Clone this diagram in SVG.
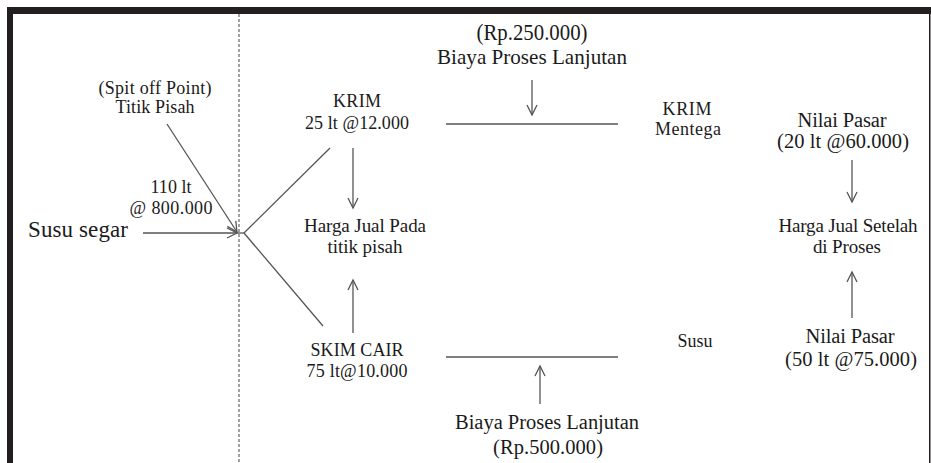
<svg xmlns="http://www.w3.org/2000/svg" width="931" height="463" viewBox="0 0 931 463">
<style>
text{font-family:"Liberation Serif","Times New Roman",serif;fill:#1a1a1a;text-anchor:middle}
.s{font-size:18px}.m{font-size:19px}.l{font-size:20.5px}.xl{font-size:23px}
.c{stroke:#555;stroke-width:1.3;fill:none}
</style>
<defs>
<marker id="ah" markerUnits="userSpaceOnUse" markerWidth="14" markerHeight="14" viewBox="-12 -7 14 14" refX="0" refY="0" orient="auto">
<path d="M-10,-5 L0,0 L-10,5" fill="none" stroke="#555" stroke-width="1.3"/>
</marker>
</defs>
<rect x="0" y="0" width="931" height="463" fill="#fff"/>
<g id="frame">
<rect x="7" y="7" width="924" height="7" fill="#231f20"/>
<rect x="7" y="7" width="6" height="456" fill="#231f20"/>
<rect x="929" y="7" width="1.5" height="456" fill="#231f20"/>
</g>
<g id="connectors">
<line x1="239" y1="14" x2="239" y2="463" stroke="#444" stroke-width="1" stroke-dasharray="3,2"/>
<line class="c" x1="143" y1="233" x2="237" y2="233" marker-end="url(#ah)"/>
<line class="c" x1="237" y1="233" x2="244" y2="233"/>
<line class="c" x1="167" y1="124" x2="237" y2="232" marker-end="url(#ah)"/>
<line class="c" x1="244" y1="233" x2="330" y2="148"/>
<line class="c" x1="244" y1="233" x2="323" y2="326"/>
<line class="c" x1="353" y1="148" x2="353" y2="208" marker-end="url(#ah)"/>
<line class="c" x1="353" y1="333" x2="353" y2="280" marker-end="url(#ah)"/>
<line class="c" x1="446" y1="124" x2="618" y2="124"/>
<line class="c" x1="532" y1="80" x2="532" y2="115" marker-end="url(#ah)"/>
<line class="c" x1="446" y1="357" x2="618" y2="357"/>
<line class="c" x1="540" y1="404" x2="540" y2="366" marker-end="url(#ah)"/>
<line class="c" x1="852" y1="160" x2="852" y2="202" marker-end="url(#ah)"/>
<line class="c" x1="852" y1="318" x2="852" y2="272" marker-end="url(#ah)"/>
</g>
<g id="biaya-top">
<text x="532" y="40" style="font-size:24px" textLength="111" lengthAdjust="spacingAndGlyphs">(Rp.250.000)</text>
<text x="532" y="64" style="font-size:22px" textLength="190" lengthAdjust="spacingAndGlyphs">Biaya Proses Lanjutan</text>
</g>
<g id="titik-pisah">
<text class="s" x="155" y="94" textLength="113">(Spit off Point)</text>
<text class="s" x="155" y="113" textLength="79">Titik Pisah</text>
</g>
<g id="input-qty">
<text class="s" x="171" y="193" textLength="41">110 lt</text>
<text class="s" x="171" y="214" textLength="83">@ 800.000</text>
</g>
<g id="susu-segar">
<text class="xl" x="78" y="237" textLength="100">Susu segar</text>
</g>
<g id="krim">
<text class="s" x="357" y="107" textLength="48">KRIM</text>
<text class="s" x="357" y="129" textLength="104">25 lt @12.000</text>
</g>
<g id="harga-jual-pisah">
<text class="m" x="365" y="232" textLength="122">Harga Jual Pada</text>
<text class="m" x="365" y="253" textLength="75">titik pisah</text>
</g>
<g id="skim-cair">
<text class="s" x="357" y="356" textLength="93">SKIM CAIR</text>
<text class="s" x="357" y="377" textLength="101">75 lt@10.000</text>
</g>
<g id="krim-mentega">
<text class="s" x="687" y="115" textLength="49">KRIM</text>
<text class="s" x="688" y="135" textLength="66">Mentega</text>
</g>
<g id="susu">
<text class="s" x="695" y="347" textLength="35">Susu</text>
</g>
<g id="nilai-pasar-top">
<text class="l" x="842" y="127" textLength="89">Nilai Pasar</text>
<text class="l" x="843" y="148" textLength="132">(20 lt @60.000)</text>
</g>
<g id="harga-jual-proses">
<text class="m" x="848" y="232" textLength="139">Harga Jual Setelah</text>
<text class="m" x="847" y="253" textLength="68">di Proses</text>
</g>
<g id="nilai-pasar-bottom">
<text class="l" x="850" y="343" textLength="89">Nilai Pasar</text>
<text class="l" x="851" y="366" textLength="132">(50 lt @75.000)</text>
</g>
<g id="biaya-bottom">
<text class="l" x="547" y="429" textLength="184">Biaya Proses Lanjutan</text>
<text class="l" x="548" y="454" textLength="110">(Rp.500.000)</text>
</g>
</svg>
